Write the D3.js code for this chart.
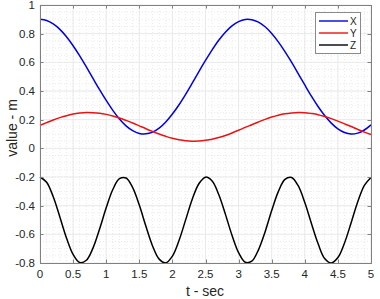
<!DOCTYPE html>
<head>
<meta charset="utf-8">
<style>
body { margin: 0; background: #fff; }
text { font-family: "Liberation Sans", Arial, sans-serif; fill: #262626; }
.grid-minor { stroke: #e4e4e4; stroke-width: 0.8px; stroke-dasharray: 1,2; }
.grid-major { stroke: #e6e6e6; stroke-width: 0.8px; }
.frame { fill: none; stroke: #808080; stroke-width: 1px; }
.tick { stroke: #808080; stroke-width: 1px; }
.series { fill: none; stroke-width: 1.5px; }
</style>
</head>
<body>
<script src="https://cdn.jsdelivr.net/npm/d3@7"></script>
<script>

// time samples, 0 .. 5 s every 0.1 s
var tValues = d3.range(0, 51).map(function(i) { return i / 10; });

// values
var xValues = [0.900, 0.892, 0.868, 0.830, 0.779, 0.716, 0.645, 0.568, 0.488, 0.409,
  0.334, 0.265, 0.205, 0.157, 0.123, 0.104, 0.101, 0.113, 0.141, 0.184,
  0.239, 0.304, 0.377, 0.455, 0.535, 0.613, 0.687, 0.754, 0.810, 0.854,
  0.884, 0.899, 0.897, 0.880, 0.848, 0.802, 0.743, 0.675, 0.601, 0.522,
  0.442, 0.364, 0.292, 0.229, 0.176, 0.136, 0.110, 0.100, 0.106, 0.128, 0.164];

var yValues = [0.160, 0.179, 0.198, 0.214, 0.228, 0.239, 0.246, 0.250, 0.249, 0.245,
  0.237, 0.226, 0.212, 0.195, 0.177, 0.157, 0.137, 0.118, 0.100, 0.084,
  0.070, 0.060, 0.053, 0.050, 0.051, 0.056, 0.064, 0.076, 0.090, 0.107,
  0.126, 0.146, 0.165, 0.184, 0.202, 0.218, 0.231, 0.241, 0.247, 0.250,
  0.249, 0.243, 0.235, 0.222, 0.207, 0.190, 0.171, 0.152, 0.132, 0.113, 0.096];

var zValues = [-0.200, -0.237, -0.338, -0.479, -0.625, -0.740, -0.797, -0.781, -0.696, -0.563,
  -0.415, -0.287, -0.212, -0.207, -0.274, -0.396, -0.544, -0.681, -0.773, -0.799,
  -0.752, -0.643, -0.499, -0.355, -0.247, -0.201, -0.228, -0.322, -0.459, -0.606,
  -0.728, -0.795, -0.787, -0.708, -0.583, -0.434, -0.302, -0.217, -0.203, -0.261,
  -0.378, -0.524, -0.664, -0.769, -0.800, -0.762, -0.660, -0.519, -0.373, -0.258, -0.203];

var seriesNames = ["X", "Y", "Z"];
var seriesColors = ["#0000e6", "#ee1111", "#000000"];
var xTicks = [0, 0.5, 1, 1.5, 2, 2.5, 3, 3.5, 4, 4.5, 5];
var yTicks = [-0.8, -0.6, -0.4, -0.2, 0, 0.2, 0.4, 0.6, 0.8, 1];

var width = 380, height = 299;
var pLeft = 40, pRight = 371, pTop = 5, pBottom = 263;

var svg = d3.select("body").append("svg")
    .attr("width", width)
    .attr("height", height);

var x = d3.scaleLinear().domain([0, 5]).range([pLeft, pRight]);
var y = d3.scaleLinear().domain([-0.8, 1]).range([pBottom, pTop]);

// minor grid
svg.append("g").selectAll("line")
    .data(d3.range(1, 50).map(function(i) { return i / 10; }))
    .enter().append("line")
    .attr("class", "grid-minor")
    .attr("x1", function(d) { return x(d); }).attr("x2", function(d) { return x(d); })
    .attr("y1", pTop).attr("y2", pBottom);

svg.append("g").selectAll("line")
    .data(d3.range(-15, 20).map(function(i) { return i / 20; }))
    .enter().append("line")
    .attr("class", "grid-minor")
    .attr("x1", pLeft).attr("x2", pRight)
    .attr("y1", function(d) { return y(d); }).attr("y2", function(d) { return y(d); });

// major grid
svg.append("g").selectAll("line")
    .data(xTicks)
    .enter().append("line")
    .attr("class", "grid-major")
    .attr("x1", function(d) { return x(d); }).attr("x2", function(d) { return x(d); })
    .attr("y1", pTop).attr("y2", pBottom);

svg.append("g").selectAll("line")
    .data(yTicks)
    .enter().append("line")
    .attr("class", "grid-major")
    .attr("x1", pLeft).attr("x2", pRight)
    .attr("y1", function(d) { return y(d); }).attr("y2", function(d) { return y(d); });

// the curves
var line = d3.line()
    .x(function(d) { return x(d[0]); })
    .y(function(d) { return y(d[1]); })
    .curve(d3.curveCatmullRom);

[xValues, yValues, zValues].forEach(function(vals, i) {
  svg.append("path")
      .attr("class", "series")
      .attr("stroke", seriesColors[i])
      .attr("d", line(tValues.map(function(t, k) { return [t, vals[k]]; })));
});

// frame + inward ticks on all four sides
svg.append("rect")
    .attr("class", "frame")
    .attr("x", pLeft + 0.5).attr("y", pTop + 0.5)
    .attr("width", pRight - pLeft).attr("height", pBottom - pTop);

var tl = 3.5;
xTicks.forEach(function(d) {
  var px = Math.round(x(d)) + 0.5;
  svg.append("line").attr("class", "tick")
      .attr("x1", px).attr("x2", px).attr("y1", pBottom).attr("y2", pBottom - tl);
  svg.append("line").attr("class", "tick")
      .attr("x1", px).attr("x2", px).attr("y1", pTop).attr("y2", pTop + tl);
  svg.append("text")
      .attr("x", x(d)).attr("y", pBottom + 15)
      .attr("text-anchor", "middle")
      .style("font-size", "11.5px")
      .text(d);
});

yTicks.forEach(function(d) {
  var py = Math.round(y(d)) + 0.5;
  svg.append("line").attr("class", "tick")
      .attr("x1", pLeft).attr("x2", pLeft + tl).attr("y1", py).attr("y2", py);
  svg.append("line").attr("class", "tick")
      .attr("x1", pRight).attr("x2", pRight - tl).attr("y1", py).attr("y2", py);
  svg.append("text")
      .attr("x", pLeft - 5).attr("y", y(d) + 4)
      .attr("text-anchor", "end")
      .style("font-size", "11.5px")
      .text(d);
});

// axis labels
svg.append("text")
    .attr("x", 205).attr("y", 296)
    .attr("text-anchor", "middle")
    .style("font-size", "14px")
    .text("t - sec");

svg.append("text")
    .attr("transform", "translate(17,128) rotate(-90)")
    .attr("text-anchor", "middle")
    .style("font-size", "14px")
    .text("value - m");

// legend
var legend = svg.append("g").attr("transform", "translate(315,12)");
legend.append("rect")
    .attr("x", 0.5).attr("y", 0.5)
    .attr("width", 45).attr("height", 41)
    .attr("fill", "#fff")
    .attr("stroke", "#8a8a8a");

seriesNames.forEach(function(name, i) {
  var ly = 9 + i * 12;
  legend.append("line")
      .attr("x1", 4).attr("x2", 33)
      .attr("y1", ly).attr("y2", ly)
      .attr("stroke", seriesColors[i])
      .attr("stroke-width", 1.4);
  legend.append("text")
      .attr("x", 35).attr("y", ly + 4)
      .style("font-size", "10px")
      .text(name);
});

</script>
</body>
</html>
